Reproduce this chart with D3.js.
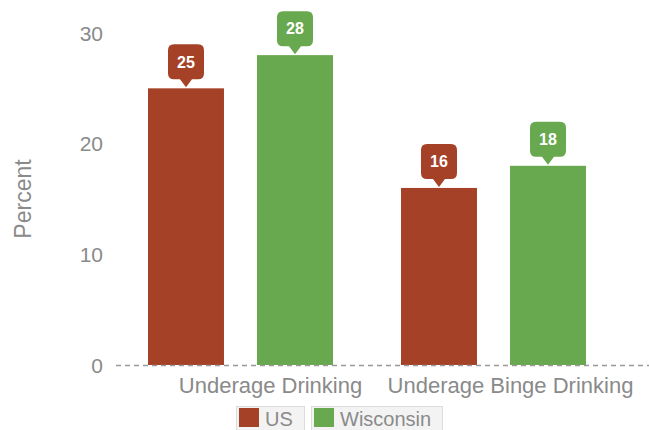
<!DOCTYPE html>
<html><head><meta charset="utf-8">
<script src="https://cdn.jsdelivr.net/npm/d3@7"></script>
<style>body{margin:0;background:#fff}svg{display:block;font-family:"Liberation Sans",Arial,sans-serif}</style>
</head><body><svg id="c" width="649" height="430"></svg>
<script>
const categories = ["Underage Drinking", "Underage Binge Drinking"];
const seriesNames = ["US", "Wisconsin"];
const usValues = [25, 16];
const wiValues = [28, 18];
const yTicks = [0, 10, 20, 30];
const colors = ["#a54126", "#68a84e"];
const labelShift = [30, 17];

const svg = d3.select("#c");
const W = 649, H = 430;
const x0 = d3.scaleBand().domain(categories).range([114, 620]).paddingInner(0).paddingOuter(0);
const x1 = d3.scaleBand().domain(seriesNames).range([0, x0.bandwidth()]).paddingInner(0.303).paddingOuter(0.312);
const y = d3.scaleLinear().domain([0, 30]).range([365, 33]);

// y tick labels
svg.append("g").selectAll("text").data(yTicks).join("text")
  .attr("x", 103).attr("y", d => y(d)).attr("dy", "0.36em")
  .attr("text-anchor", "end").attr("fill", "#8a8a8a").attr("font-size", 21)
  .text(d => d);

svg.append("text").attr("transform", `translate(31,${y(15) + 0}) rotate(-90)`)
  .attr("text-anchor", "middle").attr("fill", "#8a8a8a").attr("font-size", 23)
  .text("Percent");

const rows = categories.map((c, i) => ({cat: c, vals: [usValues[i], wiValues[i]]}));
const g = svg.append("g");
rows.forEach(r => {
  r.vals.forEach((v, j) => {
    const bx = x0(r.cat) + x1(seriesNames[j]);
    const bw = x1.bandwidth();
    g.append("rect").attr("x", bx).attr("y", y(v)).attr("width", bw).attr("height", y(0) - y(v))
      .attr("fill", colors[j]);
    // callout
    const cx = bx + bw / 2, tip = y(v) - 1, bh = 35, bwid = 36, ph = 8, pw = 6, r6 = 6;
    const top = tip - ph - bh, bot = tip - ph, l = cx - bwid / 2, rr = cx + bwid / 2;
    const p = d3.path();
    p.moveTo(l + r6, top); p.lineTo(rr - r6, top); p.quadraticCurveTo(rr, top, rr, top + r6);
    p.lineTo(rr, bot - r6); p.quadraticCurveTo(rr, bot, rr - r6, bot);
    p.lineTo(cx + pw, bot); p.lineTo(cx, tip); p.lineTo(cx - pw, bot);
    p.lineTo(l + r6, bot); p.quadraticCurveTo(l, bot, l, bot - r6);
    p.lineTo(l, top + r6); p.quadraticCurveTo(l, top, l + r6, top); p.closePath();
    g.append("path").attr("d", p.toString()).attr("fill", colors[j]);
    g.append("text").attr("x", cx).attr("y", top + bh / 2).attr("dy", "0.36em")
      .attr("text-anchor", "middle").attr("fill", "#fff").attr("font-size", 16).attr("font-weight", "bold")
      .text(v);
  });
});

// baseline
svg.append("line").attr("x1", 116).attr("x2", W).attr("y1", y(0) + 0.5).attr("y2", y(0) + 0.5)
  .attr("stroke", "#999").attr("stroke-width", 1.3).attr("stroke-dasharray", "5,4");

// category labels
svg.append("g").selectAll("text").data(categories).join("text")
  .attr("x", (d, i) => x0(d) + x0.bandwidth() / 2 + labelShift[i]).attr("y", 393)
  .attr("text-anchor", "middle").attr("fill", "#8a8a8a").attr("font-size", 22)
  .text(d => d);

// legend
const leg = svg.append("g");
const items = [{n: seriesNames[0], c: colors[0], x: 236, w: 68}, {n: seriesNames[1], c: colors[1], x: 311, w: 131}];
items.forEach(it => {
  leg.append("rect").attr("x", it.x + 0.5).attr("y", 406.5).attr("width", it.w).attr("height", 30)
    .attr("fill", "#f3f3f3").attr("stroke", "#dcdcdc");
  leg.append("rect").attr("x", it.x + 3).attr("y", 408).attr("width", 20).attr("height", 19).attr("fill", it.c);
  leg.append("text").attr("x", it.x + 29).attr("y", 426)
    .attr("fill", "#8a8a8a").attr("font-size", 20).text(it.n);
});
</script></body></html>
